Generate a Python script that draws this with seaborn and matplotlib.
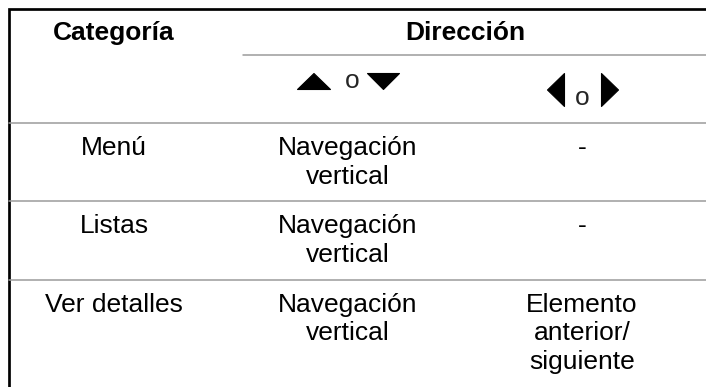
import matplotlib
matplotlib.use("Agg")
import matplotlib.pyplot as plt
import seaborn as sns
from matplotlib.textpath import TextPath
from matplotlib.patches import PathPatch
from matplotlib.font_manager import FontProperties
from matplotlib.transforms import Affine2D

# contenido de la tabla
encabezados = ["Categoría", "Dirección"]
categorias = ["Menú", "Listas", "Ver detalles"]
arriba_abajo = ["Navegación\nvertical", "Navegación\nvertical", "Navegación\nvertical"]
izq_der = ["-", "-", "Elemento\nanterior/\nsiguiente"]
conector = "o"

sns.set_style("white")
plt.rcParams["font.family"] = ["Liberation Sans", "DejaVu Sans"]

W, H = 706, 387
FS = 19
col_x = [114, 348, 582]
row_top = [123, 201, 280]
line_gap = 28.5
gris = "#9b9b9b"

fig = plt.figure(figsize=(W / 100, H / 100), dpi=100)
ax = fig.add_axes([0, 0, 1, 1])
ax.set_xlim(0, W)
ax.set_ylim(H, 0)
ax.axis("off")


def celda(texto, x, base, bold=False):
    for i, linea in enumerate(texto.split("\n")):
        ax.text(x, base + i * line_gap, linea, ha="center", va="baseline",
                fontsize=FS, fontweight="bold" if bold else "normal", color="black")


def glyph(ch, cx, cy, w, h):
    tp = TextPath((0, 0), ch, size=10, prop=FontProperties(family="DejaVu Sans"))
    bb = tp.get_extents()
    tr = (Affine2D().translate(-(bb.x0 + bb.x1) / 2, -(bb.y0 + bb.y1) / 2)
          .scale(w / bb.width, -h / bb.height).translate(cx, cy))
    ax.add_patch(PathPatch(tr.transform_path(tp), fc="black", ec="black",
                           lw=0.8, joinstyle="round"))


# bordes
ax.plot([8.7, 8.7, W], [H, 8.7, 8.7], color="black", lw=1.95,
        solid_joinstyle="miter", solid_capstyle="butt")
ax.plot([243, W], [55, 55], color=gris, lw=1.1)
for y in row_top:
    ax.plot([8.7, W], [y, y], color=gris, lw=1.1)

# encabezados
celda(encabezados[0], col_x[0], 40, bold=True)
celda(encabezados[1], 465, 40, bold=True)

# flechas
glyph("▲", 314, 81.5, 33, 16)
ax.text(352, 88, conector, ha="center", va="baseline", fontsize=FS)
glyph("▼", 383.5, 81.5, 32, 16)
glyph("◀", 556, 90, 17, 33)
ax.text(582.5, 105, conector, ha="center", va="baseline", fontsize=FS)
glyph("▶", 610, 90, 17, 33)

# filas
for cat, v, h, top in zip(categorias, arriba_abajo, izq_der, row_top):
    base = top + 32
    celda(cat, col_x[0], base)
    celda(v, col_x[1], base)
    celda(h, col_x[2], base)

fig.savefig("out.png", dpi=100)
plt.close(fig)
